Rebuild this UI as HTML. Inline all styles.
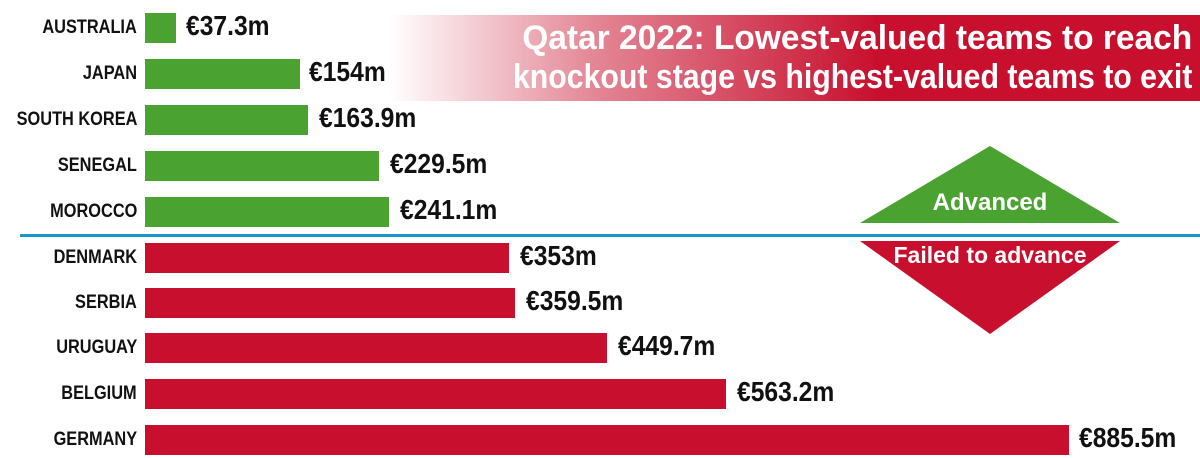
<!DOCTYPE html>
<html><head><meta charset="utf-8"><style>
body{margin:0;width:1200px;height:458px;background:#fff;position:relative;overflow:hidden;font-family:"Liberation Sans",sans-serif;font-weight:bold}
.banner{position:absolute;left:390px;top:15px;width:810px;height:86px;background:linear-gradient(to right,rgba(200,16,46,0) 0%,rgba(200,16,46,0.5) 25%,#c8102e 60%,#c8102e 100%)}
.tl{position:absolute;right:8px;color:#fff;font-size:34px;line-height:39px;white-space:nowrap;transform-origin:right center}
.lab{position:absolute;right:1063px;font-size:19px;color:#111;white-space:nowrap;transform:scaleX(0.86);transform-origin:right center}
.bar{position:absolute;left:145px;height:30px}
.g{background:#4aa331}.r{background:#c8102e}
.val{position:absolute;font-size:28px;color:#111;white-space:nowrap;transform:scaleX(0.88);transform-origin:left center}
</style></head><body>
<div class="banner"></div>
<div class="tl" style="top:19px;transform:scaleX(0.985)">Qatar 2022: Lowest-valued teams to reach</div>
<div class="tl" style="top:58px;transform:scaleX(0.89)">knockout stage vs highest-valued teams to exit</div>
<div style="position:absolute;left:20px;top:234px;width:1180px;height:3px;background:#1a95d2"></div>
<svg style="position:absolute;left:0;top:0" width="1200" height="458">
<polygon points="860,223 1120,223 990,146" fill="#4aa331"/>
<polygon points="860,241 1120,241 990,334" fill="#c8102e"/>
<text x="990" y="210" fill="#fff" font-family="Liberation Sans, sans-serif" font-weight="bold" font-size="24" text-anchor="middle">Advanced</text>
<text x="990" y="263" fill="#fff" font-family="Liberation Sans, sans-serif" font-weight="bold" font-size="23" text-anchor="middle">Failed to advance</text>
</svg>

<div class="lab" style="top:17px">AUSTRALIA</div><div class="bar g" style="top:13px;width:31px"></div><div class="val" style="left:186px;top:10px">€37.3m</div>
<div class="lab" style="top:63px">JAPAN</div><div class="bar g" style="top:59px;width:155px"></div><div class="val" style="left:309px;top:56px">€154m</div>
<div class="lab" style="top:109px">SOUTH KOREA</div><div class="bar g" style="top:105px;width:163px"></div><div class="val" style="left:319px;top:102px">€163.9m</div>
<div class="lab" style="top:155px">SENEGAL</div><div class="bar g" style="top:151px;width:234px"></div><div class="val" style="left:390px;top:148px">€229.5m</div>
<div class="lab" style="top:201px">MOROCCO</div><div class="bar g" style="top:197px;width:244px"></div><div class="val" style="left:400px;top:194px">€241.1m</div>

<div class="lab" style="top:247px">DENMARK</div><div class="bar r" style="top:243px;width:364px"></div><div class="val" style="left:520px;top:240px">€353m</div>
<div class="lab" style="top:292px">SERBIA</div><div class="bar r" style="top:288px;width:370px"></div><div class="val" style="left:526px;top:285px">€359.5m</div>
<div class="lab" style="top:337px">URUGUAY</div><div class="bar r" style="top:333px;width:462px"></div><div class="val" style="left:618px;top:330px">€449.7m</div>
<div class="lab" style="top:383px">BELGIUM</div><div class="bar r" style="top:379px;width:581px"></div><div class="val" style="left:737px;top:376px">€563.2m</div>
<div class="lab" style="top:429px">GERMANY</div><div class="bar r" style="top:425px;width:924px"></div><div class="val" style="left:1079px;top:422px">€885.5m</div>
</body></html>
